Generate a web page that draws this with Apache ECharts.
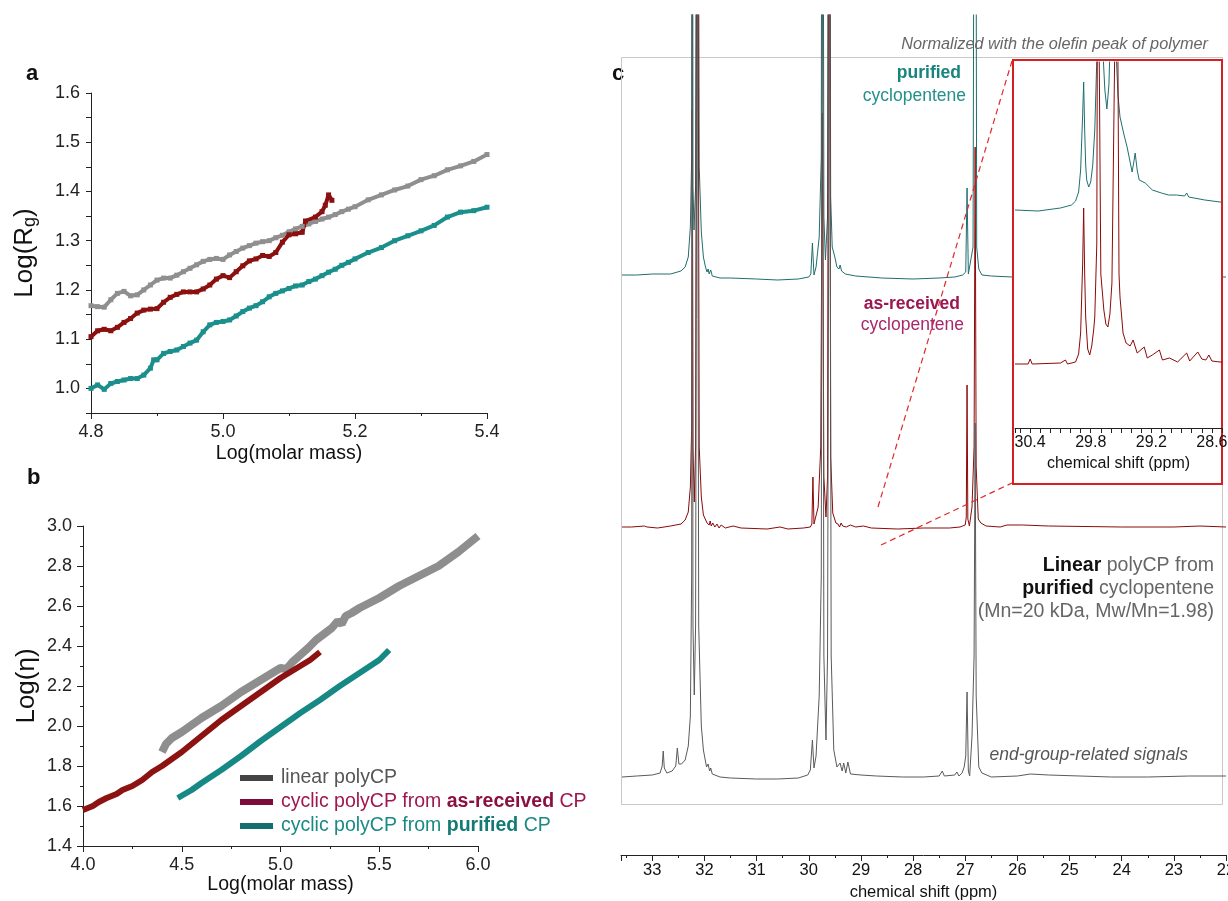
<!DOCTYPE html>
<html>
<head>
<meta charset="utf-8">
<script src="https://cdn.jsdelivr.net/npm/echarts@6/dist/echarts.min.js"></script>
<style>
  html, body { margin: 0; padding: 0; background: #fff; }
  #chart { width: 1228px; height: 901px; }
</style>
</head>
<body>
<div id="chart"></div>
<script>
var FONT = 'Liberation Sans, Arial, Helvetica, sans-serif';

// ---- panel a : Log(Rg) vs Log(molar mass)
var rgLinear = [
  [4.80,1.168],[4.81,1.166],[4.82,1.165],[4.83,1.180],[4.84,1.193],[4.85,1.197],[4.86,1.188],
  [4.87,1.190],[4.88,1.200],[4.89,1.210],[4.90,1.220],[4.91,1.224],[4.92,1.224],[4.93,1.230],
  [4.94,1.237],[4.95,1.244],[4.96,1.251],[4.97,1.258],[4.98,1.262],[4.99,1.264],[5.00,1.262],
  [5.01,1.271],[5.02,1.278],[5.03,1.285],[5.04,1.290],[5.05,1.295],[5.06,1.298],[5.07,1.300],
  [5.08,1.306],[5.09,1.311],[5.10,1.318],[5.11,1.324],[5.12,1.329],[5.13,1.334],[5.14,1.339],
  [5.15,1.344],[5.16,1.348],[5.17,1.353],[5.18,1.359],[5.19,1.364],[5.20,1.369],[5.22,1.383],
  [5.24,1.393],[5.26,1.403],[5.28,1.411],[5.30,1.424],[5.32,1.432],[5.34,1.444],[5.36,1.452],
  [5.38,1.461],[5.40,1.475]
];
var rgAsReceived = [
  [4.80,1.105],[4.81,1.117],[4.82,1.120],[4.83,1.117],[4.84,1.124],[4.85,1.134],[4.86,1.142],
  [4.87,1.153],[4.88,1.159],[4.89,1.161],[4.90,1.162],[4.91,1.175],[4.92,1.185],[4.93,1.191],
  [4.94,1.196],[4.95,1.196],[4.96,1.196],[4.97,1.202],[4.98,1.210],[4.99,1.222],[5.00,1.229],
  [5.01,1.225],[5.02,1.237],[5.03,1.249],[5.04,1.259],[5.05,1.263],[5.06,1.270],[5.07,1.268],
  [5.08,1.276],[5.09,1.297],[5.10,1.312],[5.11,1.314],[5.12,1.317],[5.125,1.340],[5.14,1.348],
  [5.15,1.359],[5.155,1.372],[5.16,1.393],[5.165,1.382]
];
var rgPurified = [
  [4.80,1.000],[4.81,1.007],[4.82,0.998],[4.83,1.010],[4.84,1.014],[4.85,1.017],[4.86,1.020],
  [4.87,1.020],[4.88,1.027],[4.89,1.041],[4.895,1.058],[4.90,1.058],[4.91,1.071],[4.92,1.075],
  [4.93,1.078],[4.94,1.085],[4.95,1.092],[4.96,1.098],[4.97,1.115],[4.98,1.129],[4.99,1.134],
  [5.00,1.136],[5.01,1.139],[5.02,1.147],[5.03,1.156],[5.04,1.163],[5.05,1.168],[5.06,1.176],
  [5.07,1.186],[5.08,1.193],[5.09,1.198],[5.10,1.203],[5.11,1.208],[5.12,1.210],[5.13,1.217],
  [5.14,1.222],[5.15,1.229],[5.16,1.236],[5.17,1.242],[5.18,1.250],[5.19,1.256],[5.20,1.263],
  [5.22,1.276],[5.24,1.286],[5.26,1.300],[5.28,1.310],[5.30,1.320],[5.32,1.331],[5.34,1.348],
  [5.36,1.358],[5.38,1.361],[5.40,1.368]
];

// ---- panel b : Log(eta) vs Log(molar mass)
var etaLinear = [
  [4.40,1.87],[4.42,1.91],[4.45,1.94],[4.50,1.97],[4.60,2.04],[4.70,2.10],[4.80,2.17],
  [4.90,2.23],[5.00,2.29],[5.03,2.285],[5.06,2.32],[5.10,2.355],[5.14,2.39],[5.18,2.43],
  [5.22,2.46],[5.26,2.49],[5.29,2.525],[5.31,2.51],[5.33,2.55],[5.36,2.565],
  [5.40,2.59],[5.50,2.64],[5.60,2.70],[5.70,2.75],[5.80,2.80],[5.90,2.87],[6.00,2.95]
];
var etaAsReceived = [
  [4.00,1.58],[4.05,1.60],[4.08,1.62],[4.12,1.64],[4.17,1.66],[4.20,1.68],[4.25,1.70],
  [4.30,1.73],[4.35,1.77],[4.40,1.80],[4.50,1.87],[4.60,1.95],[4.70,2.03],[4.80,2.10],
  [4.90,2.17],[5.00,2.24],[5.10,2.30],[5.15,2.33],[5.20,2.37]
];
var etaPurified = [
  [4.48,1.64],[4.55,1.68],[4.60,1.715],[4.70,1.78],[4.80,1.85],[4.90,1.925],[5.00,1.995],
  [5.10,2.065],[5.20,2.13],[5.30,2.20],[5.40,2.265],[5.50,2.33],[5.55,2.38]
];
var legendNames = ['linear polyCP', 'cyclic polyCP from as-received CP', 'cyclic polyCP from purified CP'];

// ---- panel c : 13C NMR, [ppm, intensity above own baseline]
var nmrPurified = [
  [33.58,2],[33.3,2],[33.0,3],[32.65,3],[32.45,6],[32.37,10],[32.31,20],[32.27,50],[32.245,120],
  [32.234,900],[32.22,90],[32.20,47],[32.17,90],[32.138,900],[32.10,110],[32.06,45],[32.02,20],
  [31.98,10],[31.95,5],[31.93,8],[31.91,3],[31.88,7],[31.85,1],[31.70,-1],[31.5,-1],[31.0,-2],
  [30.6,-3],[30.2,-2],[30.0,0],[29.96,3],[29.93,34],[29.90,2],[29.86,10],[29.80,40],[29.76,120],
  [29.74,900],[29.71,60],[29.68,17],[29.64,60],[29.61,900],[29.58,80],[29.55,30],[29.50,20],
  [29.46,10],[29.42,8],[29.40,12],[29.37,6],[29.30,3],[29.1,1],[28.6,-1],[28.0,-2],[27.5,-1],
  [27.2,0],[27.05,2],[26.99,5],[26.965,89],[26.94,3],[26.91,3],[26.85,30],[26.81,900],[26.78,30],
  [26.74,8],[26.68,2],[26.5,1],[26.1,0],[25.0,0],[23.0,0],[22.0,0]
];
var nmrAsReceived = [
  [33.58,0],[33.4,0],[33.15,1],[33.1,0],[32.9,-1],[32.65,1],[32.45,3],[32.37,7],[32.31,15],
  [32.27,40],[32.245,100],[32.234,417],[32.22,80],[32.195,25],[32.17,80],[32.138,900],[32.10,80],
  [32.06,30],[32.02,12],[31.95,4],[31.93,5],[31.91,2],[31.89,6],[31.87,1],[31.84,4],[31.80,0],
  [31.76,3],[31.72,-1],[31.68,2],[31.6,-1],[31.45,1],[31.3,-1],[30.8,-2],[30.55,0],[30.4,-2],
  [30.1,-1],[29.97,0],[29.94,3],[29.92,50],[29.90,3],[29.87,2],[29.82,20],[29.77,80],[29.74,414],
  [29.71,50],[29.67,10],[29.64,50],[29.61,900],[29.58,70],[29.54,14],[29.48,4],[29.44,3],
  [29.41,0],[29.38,4],[29.35,1],[29.32,3],[29.28,0],[29.2,2],[29.1,0],[28.95,1],[28.8,-1],
  [28.3,-2],[27.8,-1],[27.3,-1],[27.1,0],[27.0,2],[26.98,10],[26.965,142],[26.95,8],[26.92,1],
  [26.87,20],[26.83,80],[26.81,380],[26.79,60],[26.75,8],[26.70,4],[26.6,1],[26.33,0],[26.2,2],
  [26.17,0],[25.9,2],[25.88,0],[25.4,1],[25.37,0],[24.0,0],[23.0,0],[22.5,1],[22.0,0]
];
var nmrLinear = [
  [33.58,-1],[33.3,0],[33.0,1],[32.85,3],[32.81,10],[32.79,25],[32.77,8],[32.72,3],[32.62,5],
  [32.55,10],[32.52,28],[32.49,12],[32.44,12],[32.37,16],[32.31,30],[32.27,60],[32.245,200],
  [32.234,900],[32.22,150],[32.195,81],[32.17,150],[32.138,900],[32.11,150],[32.06,50],
  [32.02,26],[31.96,9],[31.93,12],[31.90,5],[31.88,8],[31.85,2],[31.70,-1],[31.5,-2],[31.0,-3],
  [30.6,-3],[30.2,-2],[30.02,1],[29.97,6],[29.93,36],[29.90,8],[29.86,20],[29.80,80],[29.76,200],
  [29.74,900],[29.71,120],[29.67,36],[29.64,120],[29.60,900],[29.57,120],[29.52,26],[29.46,9],
  [29.40,13],[29.36,5],[29.33,13],[29.29,3],[29.25,14],[29.2,2],[29.0,1],[28.7,0],[28.2,-1],
  [27.8,-1],[27.5,0],[27.44,5],[27.40,0],[27.2,1],[27.16,4],[27.12,0],[27.06,3],[27.02,9],
  [26.99,20],[26.965,84],[26.94,5],[26.915,0],[26.87,40],[26.83,120],[26.81,353],[26.79,80],
  [26.74,9],[26.68,3],[26.5,-1],[26.0,0],[25.75,2],[25.72,0],[25.4,1],[24.8,0],[24.2,-1],
  [23.5,-1],[22.7,0],[22.0,0]
];
// inset (zoom of 29.x ppm)
var insetPurified = [
  [30.55,0],[30.32,-1],[30.1,2],[29.99,5],[29.95,9],[29.92,18],[29.90,40],[29.88,95],[29.87,128],
  [29.86,80],[29.85,45],[29.84,30],[29.82,23],[29.80,28],[29.78,45],[29.76,80],[29.74,150],
  [29.71,400],[29.68,160],[29.66,120],[29.64,101],[29.62,125],[29.61,160],[29.58,400],
  [29.55,160],[29.53,115],[29.51,93],[29.47,75],[29.44,63],[29.41,48],[29.39,38],[29.37,50],
  [29.36,57],[29.34,40],[29.32,30],[29.26,27],[29.19,20],[29.10,17],[29.03,15],[28.95,15],
  [28.87,14],[28.85,17],[28.83,13],[28.67,10],[28.52,8],[28.5,8]
];
var insetAsReceived = [
  [30.55,0],[30.42,0],[30.40,5],[30.38,0],[30.1,1],[30.05,4],[30.03,0],[29.95,2],[29.92,10],
  [29.90,31],[29.88,100],[29.87,156],[29.86,90],[29.85,47],[29.83,15],[29.81,9],[29.79,18],
  [29.77,35],[29.76,47],[29.74,120],[29.73,500],[29.70,90],[29.67,54],[29.65,40],[29.63,37],
  [29.61,50],[29.59,81],[29.54,500],[29.52,90],[29.51,67],[29.48,31],[29.45,21],[29.41,18],
  [29.38,24],[29.34,11],[29.27,17],[29.24,6],[29.19,9],[29.12,14],[29.09,4],[29.02,6],[28.94,2],
  [28.85,11],[28.82,3],[28.74,12],[28.70,5],[28.66,4],[28.63,9],[28.60,3],[28.52,2],[28.5,2]
];
var insetTickLabels = [30.4, 29.8, 29.2, 28.6];

var chart = echarts.init(document.getElementById('chart'));

function near(v, step) {
  return Math.abs(v / step - Math.round(v / step)) < 0.01;
}
function axisBase(extra) {
  var o = {
    type: 'value',
    splitLine: { show: false },
    axisLine: { onZero: false, lineStyle: { color: '#222', width: 1 } },
    axisTick: { length: 6, lineStyle: { color: '#222' } },
    minorTick: { show: true, splitNumber: 2, length: 3, lineStyle: { color: '#222' } },
    axisLabel: { fontFamily: FONT, fontSize: 18, color: '#222', margin: 10 },
    nameTextStyle: { fontFamily: FONT, fontSize: 19.5, color: '#111' }
  };
  for (var k in extra) o[k] = extra[k];
  return o;
}
function fixed1(v) { return v.toFixed(1); }

var option = {
  animation: false,
  backgroundColor: '#fff',
  grid: [
    { left: 91, top: 93, width: 396, height: 320, outerBoundsMode: 'none' },
    { left: 83, top: 526, width: 395, height: 320, outerBoundsMode: 'none' },
    { left: 621, top: 15, width: 605, height: 840, outerBoundsMode: 'none' },
    { left: 1015, top: 62, width: 207, height: 366, outerBoundsMode: 'none' }
  ],
  xAxis: [
    axisBase({ gridIndex: 0, min: 4.8, max: 5.4, interval: 0.2, name: 'Log(molar mass)',
      nameLocation: 'middle', nameGap: 31,
      axisLabel: { fontFamily: FONT, fontSize: 18, color: '#222', margin: 10, formatter: fixed1 } }),
    axisBase({ gridIndex: 1, min: 4.0, max: 6.0, interval: 0.5, name: 'Log(molar mass)',
      nameLocation: 'middle', nameGap: 26,
      axisLabel: { fontFamily: FONT, fontSize: 18, color: '#222', margin: 10, formatter: fixed1 } }),
    axisBase({ gridIndex: 2, min: 22, max: 33.6, interval: 1, inverse: true,
      name: 'chemical shift (ppm)', nameLocation: 'middle', nameGap: 28,
      nameTextStyle: { fontFamily: FONT, fontSize: 16.5, color: '#111' },
      axisLabel: { fontFamily: FONT, fontSize: 16.5, color: '#111', margin: 7,
        formatter: function (v) { return near(v, 1) ? String(Math.round(v)) : ''; } } }),
    axisBase({ gridIndex: 3, min: 28.5, max: 30.55, interval: 0.1, inverse: true, z: 6,
      name: 'chemical shift (ppm)', nameLocation: 'middle', nameGap: 28,
      nameTextStyle: { fontFamily: FONT, fontSize: 16, color: '#111' },
      axisTick: { length: 5, lineStyle: { color: '#222' } },
      minorTick: { show: false },
      axisLabel: { fontFamily: FONT, fontSize: 16, color: '#111', margin: 7,
        formatter: function (v) {
          for (var i = 0; i < insetTickLabels.length; i++) {
            if (Math.abs(v - insetTickLabels[i]) < 0.01) return insetTickLabels[i].toFixed(1);
          }
          return '';
        } } })
  ],
  yAxis: [
    axisBase({ gridIndex: 0, min: 0.95, max: 1.6, interval: 0.05,
      name: '{n|Log(R}{s|g}{n|)}', nameLocation: 'middle', nameGap: 52,
      minorTick: { show: false }, axisTick: { length: 5, lineStyle: { color: '#222' } },
      nameTextStyle: { fontFamily: FONT, fontSize: 26, color: '#111',
        rich: { n: { fontFamily: FONT, fontSize: 26, color: '#111' },
                s: { fontFamily: FONT, fontSize: 18, color: '#111', verticalAlign: 'bottom', padding: [10, 0, 0, 0] } } },
      axisLabel: { fontFamily: FONT, fontSize: 18, color: '#222', margin: 11,
        formatter: function (v) { return near(v, 0.1) ? v.toFixed(1) : ''; } } }),
    axisBase({ gridIndex: 1, min: 1.4, max: 3.0, interval: 0.2,
      name: 'Log(η)', nameLocation: 'middle', nameGap: 43,
      nameTextStyle: { fontFamily: FONT, fontSize: 26, color: '#111' },
      axisLabel: { fontFamily: FONT, fontSize: 18, color: '#222', margin: 11, formatter: fixed1 } }),
    { type: 'value', gridIndex: 2, show: false, min: -578, max: 262 },
    { type: 'value', gridIndex: 2, show: false, min: -328, max: 512 },
    { type: 'value', gridIndex: 2, show: false, min: -79, max: 761 },
    { type: 'value', gridIndex: 3, show: false, min: -218, max: 148 },
    { type: 'value', gridIndex: 3, show: false, min: -64, max: 302 }
  ],
  legend: {
    orient: 'vertical', left: 240, top: 768, padding: 0,
    itemWidth: 33, itemHeight: 6, itemGap: 4, icon: 'rect',
    selectedMode: false,
    data: [
      { name: legendNames[0], itemStyle: { color: '#444' } },
      { name: legendNames[1], itemStyle: { color: '#7d0b3c' } },
      { name: legendNames[2], itemStyle: { color: '#136f6e' } }
    ],
    formatter: function (name) {
      if (name === legendNames[0]) return '{g|' + name + '}';
      if (name === legendNames[1]) return '{r|cyclic polyCP from }{rb|as-received}{r| CP}';
      return '{t|cyclic polyCP from }{tb|purified}{t| CP}';
    },
    textStyle: {
      fontFamily: FONT, fontSize: 19.5, padding: [0, 0, 0, 3],
      rich: {
        g: { fontFamily: FONT, fontSize: 19.5, color: '#555' },
        r: { fontFamily: FONT, fontSize: 19.5, color: '#a0174f' },
        rb: { fontFamily: FONT, fontSize: 19.5, color: '#8b1040', fontWeight: 'bold' },
        t: { fontFamily: FONT, fontSize: 19.5, color: '#1b8a85' },
        tb: { fontFamily: FONT, fontSize: 19.5, color: '#137a75', fontWeight: 'bold' }
      }
    }
  },
  graphic: [
    { type: 'text', left: 26, top: 63, style: { text: 'a', font: 'bold 22px ' + FONT, fill: '#111' } },
    { type: 'text', left: 27, top: 467, style: { text: 'b', font: 'bold 22px ' + FONT, fill: '#111' } },
    { type: 'text', left: 612, top: 63, style: { text: 'c', font: 'bold 22px ' + FONT, fill: '#111' } },
    { type: 'rect', z: 0, shape: { x: 621.5, y: 57.5, width: 601, height: 747 },
      style: { fill: 'none', stroke: '#c8c8c8', lineWidth: 1 } },
    { type: 'rect', z: 3, shape: { x: 1013, y: 60, width: 209, height: 424 },
      style: { fill: '#fff', stroke: '#d42020', lineWidth: 2 } },
    { type: 'line', z: 4, shape: { x1: 878, y1: 507, x2: 1012, y2: 61 },
      style: { stroke: '#e02828', lineWidth: 1.2, lineDash: [6, 4] } },
    { type: 'line', z: 4, shape: { x1: 881, y1: 545, x2: 1012, y2: 483 },
      style: { stroke: '#e02828', lineWidth: 1.2, lineDash: [6, 4] } },
    { type: 'text', z: 4, style: { text: 'Normalized with the olefin peak of polymer', x: 1208, y: 44,
      textAlign: 'right', textVerticalAlign: 'middle', font: 'italic 16.3px ' + FONT, fill: '#666' } },
    { type: 'text', z: 4, style: { text: 'purified', x: 961, y: 73, textAlign: 'right',
      textVerticalAlign: 'middle', font: 'bold 17.5px ' + FONT, fill: '#17857b' } },
    { type: 'text', z: 4, style: { text: 'cyclopentene', x: 966, y: 96, textAlign: 'right',
      textVerticalAlign: 'middle', font: '17.5px ' + FONT, fill: '#23918a' } },
    { type: 'text', z: 4, style: { text: 'as-received', x: 960, y: 304, textAlign: 'right',
      textVerticalAlign: 'middle', font: 'bold 17.5px ' + FONT, fill: '#9c1650' } },
    { type: 'text', z: 4, style: { text: 'cyclopentene', x: 964, y: 325, textAlign: 'right',
      textVerticalAlign: 'middle', font: '17.5px ' + FONT, fill: '#a8286a' } },
    { type: 'text', z: 4, style: { text: '{b|Linear}{n| polyCP from}', x: 1214, y: 566, textAlign: 'right',
      textVerticalAlign: 'middle', font: '19.5px ' + FONT, fill: '#666',
      rich: { b: { fontFamily: FONT, fontSize: 19.5, fontWeight: 'bold', fill: '#111' },
              n: { fontFamily: FONT, fontSize: 19.5, fill: '#666' } } } },
    { type: 'text', z: 4, style: { text: '{b|purified}{n| cyclopentene}', x: 1214, y: 589, textAlign: 'right',
      textVerticalAlign: 'middle', font: '19.5px ' + FONT, fill: '#666',
      rich: { b: { fontFamily: FONT, fontSize: 19.5, fontWeight: 'bold', fill: '#111' },
              n: { fontFamily: FONT, fontSize: 19.5, fill: '#666' } } } },
    { type: 'text', z: 4, style: { text: '(Mn=20 kDa, Mw/Mn=1.98)', x: 1214, y: 612, textAlign: 'right',
      textVerticalAlign: 'middle', font: '19.5px ' + FONT, fill: '#666' } },
    { type: 'text', z: 4, style: { text: 'end-group-related signals', x: 1188, y: 755, textAlign: 'right',
      textVerticalAlign: 'middle', font: 'italic 17.5px ' + FONT, fill: '#555' } }
  ],
  series: [
    { type: 'line', name: 'a-linear', xAxisIndex: 0, yAxisIndex: 0, data: rgLinear,
      symbol: 'rect', symbolSize: 5, showAllSymbol: true, color: '#8f8f8f', lineStyle: { width: 4 } },
    { type: 'line', name: 'a-asreceived', xAxisIndex: 0, yAxisIndex: 0, data: rgAsReceived,
      symbol: 'rect', symbolSize: 5, showAllSymbol: true, color: '#8b1010', lineStyle: { width: 4 } },
    { type: 'line', name: 'a-purified', xAxisIndex: 0, yAxisIndex: 0, data: rgPurified,
      symbol: 'rect', symbolSize: 5, showAllSymbol: true, color: '#1b8f8c', lineStyle: { width: 4 } },

    { type: 'line', name: legendNames[0], xAxisIndex: 1, yAxisIndex: 1, data: etaLinear,
      symbol: 'none', color: '#8e8e8e', lineStyle: { width: 8 } },
    { type: 'line', name: legendNames[1], xAxisIndex: 1, yAxisIndex: 1, data: etaAsReceived,
      symbol: 'none', color: '#8d1212', lineStyle: { width: 6 } },
    { type: 'line', name: legendNames[2], xAxisIndex: 1, yAxisIndex: 1, data: etaPurified,
      symbol: 'none', color: '#168985', lineStyle: { width: 6 } },

    { type: 'line', name: 'c-purified', xAxisIndex: 2, yAxisIndex: 2, data: nmrPurified, z: 2,
      symbol: 'none', color: '#1f6e6e', lineStyle: { width: 1 } },
    { type: 'line', name: 'c-asreceived', xAxisIndex: 2, yAxisIndex: 3, data: nmrAsReceived, z: 2,
      symbol: 'none', color: '#8b0a0a', lineStyle: { width: 1 } },
    { type: 'line', name: 'c-linear', xAxisIndex: 2, yAxisIndex: 4, data: nmrLinear, z: 2,
      symbol: 'none', color: '#5a5a5a', lineStyle: { width: 1 } },

    { type: 'line', name: 'inset-purified', xAxisIndex: 3, yAxisIndex: 5, data: insetPurified, z: 5,
      symbol: 'none', color: '#1f7070', lineStyle: { width: 1 } },
    { type: 'line', name: 'inset-asreceived', xAxisIndex: 3, yAxisIndex: 6, data: insetAsReceived, z: 5,
      symbol: 'none', color: '#8b0a0a', lineStyle: { width: 1 } }
  ]
};

chart.setOption(option);
</script>
</body>
</html>
